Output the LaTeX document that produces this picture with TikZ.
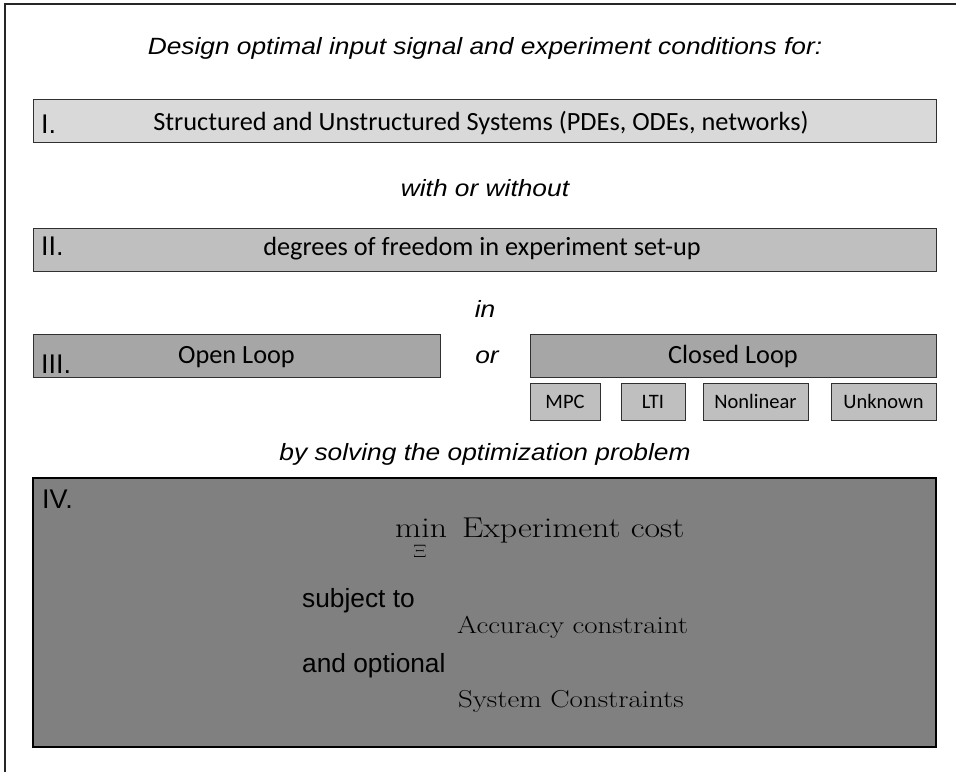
\RequirePackage{fix-cm}
\documentclass[tikz,border=0pt]{standalone}
\usepackage{graphicx}
\usepackage{fontspec}
\newfontfamily\arialf{Liberation Sans}
\newfontfamily\calibrif{Carlito}
\newcommand\fsbox{\fontsize{26.3}{31}\selectfont}
\newcommand\fslab{\fontsize{27}{32}\selectfont}
\newcommand\fsital{\fontsize{23.5}{28}\selectfont}
\newcommand\fssmall{\fontsize{20.5}{24}\selectfont}
\newcommand\fsmin{\fontsize{28.7}{34}\selectfont}
\newcommand\fscon{\fontsize{24.5}{29}\selectfont}
\newcommand\fsxi{\fontsize{18}{21}\selectfont}
\newcommand\widen[1]{\scalebox{1.12}[1]{#1}}
\newcommand\widenlm[1]{\scalebox{1.18}[1]{#1}}
\definecolor{fillA}{HTML}{D9D9D9}
\definecolor{fillB}{HTML}{BFBFBF}
\definecolor{fillC}{HTML}{A6A6A6}
\definecolor{fillD}{HTML}{808080}
\definecolor{edge}{HTML}{303030}
\tikzset{
  box/.style={draw=edge, line width=1pt, inner sep=0pt, outer sep=0pt},
  smallbox/.style={box, fill=fillB, minimum height=37pt, font=\calibrif\fssmall},
  boxtext/.style={font=\calibrif\fsbox, inner sep=0pt, anchor=base},
  head/.style={font=\arialf\itshape\fsital, inner sep=0pt, anchor=base},
  label/.style={font=\arialf\fslab, inner sep=0pt, anchor=base west},
  plain/.style={font=\arialf\fsbox, inner sep=0pt, anchor=base west},
  lmtext/.style={inner sep=0pt, anchor=base west},
}
\begin{document}
\begin{tikzpicture}[x=1pt,y=-1pt]
\useasboundingbox (0,0) rectangle (956,772);
% outer frame (only top and left edges visible)
\draw[line width=1.6pt, black!85] (5,772) -- (5,4) -- (956,4);

\node[head] (title) at (485,54) {\widen{Design optimal input signal and experiment conditions for:}};

\node[box, fill=fillA, minimum width=903pt, minimum height=43pt] (b1) at (484.5,120.5) {};
\node[boxtext] (t1) at (481,130) {Structured and Unstructured Systems (PDEs, ODEs, networks)};
\node[label] (l1) at (41,133) {I.};

\node[head] (w1) at (485,196) {\widen{with or without}};

\node[box, fill=fillB, minimum width=903pt, minimum height=43pt] (b2) at (484.5,249.5) {};
\node[boxtext] (t2) at (482,255) {degrees of freedom in experiment set-up};
\node[label] (l2) at (41,255) {II.};

\node[head] (w2) at (485,317) {\widen{in}};

\node[box, fill=fillC, minimum width=407pt, minimum height=43pt] (b3a) at (236.5,355.5) {};
\node[boxtext] (t3a) at (236.5,363) {Open Loop};
\node[label] (l3) at (41,373) {III.};
\node[head] (w3) at (487,363) {\widen{or}};
\node[box, fill=fillC, minimum width=406pt, minimum height=43pt] (b3b) at (733,355.5) {};
\node[boxtext] (t3b) at (733,363) {Closed Loop};

\node[smallbox, minimum width=70pt] (s1) at (565,401.5) {MPC};
\node[smallbox, minimum width=64pt] (s2) at (653,401.5) {LTI};
\node[smallbox, minimum width=105pt] (s3) at (755.5,401.5) {Nonlinear};
\node[smallbox, minimum width=105pt] (s4) at (883.5,401.5) {Unknown};

\node[head] (w4) at (485,460) {\widen{by solving the optimization problem}};

\node[draw=black, line width=1.6pt, fill=fillD, inner sep=0pt, outer sep=0pt,
      minimum width=903pt, minimum height=269pt] (b4) at (484.5,612.5) {};
\node[label] (l4) at (42,508) {IV.};

\node[lmtext, font=\fsmin] (mn) at (395,537) {\widenlm{min}};
\node[inner sep=0pt, font=\fsxi] (xi) at (420,551) {\widenlm{$\Xi$}};
\node[lmtext, font=\fsmin] (obj) at (462,537) {\widenlm{Experiment cost}};
\node[plain] (st) at (302,607) {subject to};
\node[lmtext, font=\fscon] (c1) at (457,633) {\widenlm{Accuracy constraint}};
\node[plain] (ao) at (302,672) {and optional};
\node[lmtext, font=\fscon] (c2) at (458,707) {\widenlm{System Constraints}};
\end{tikzpicture}
\end{document}
